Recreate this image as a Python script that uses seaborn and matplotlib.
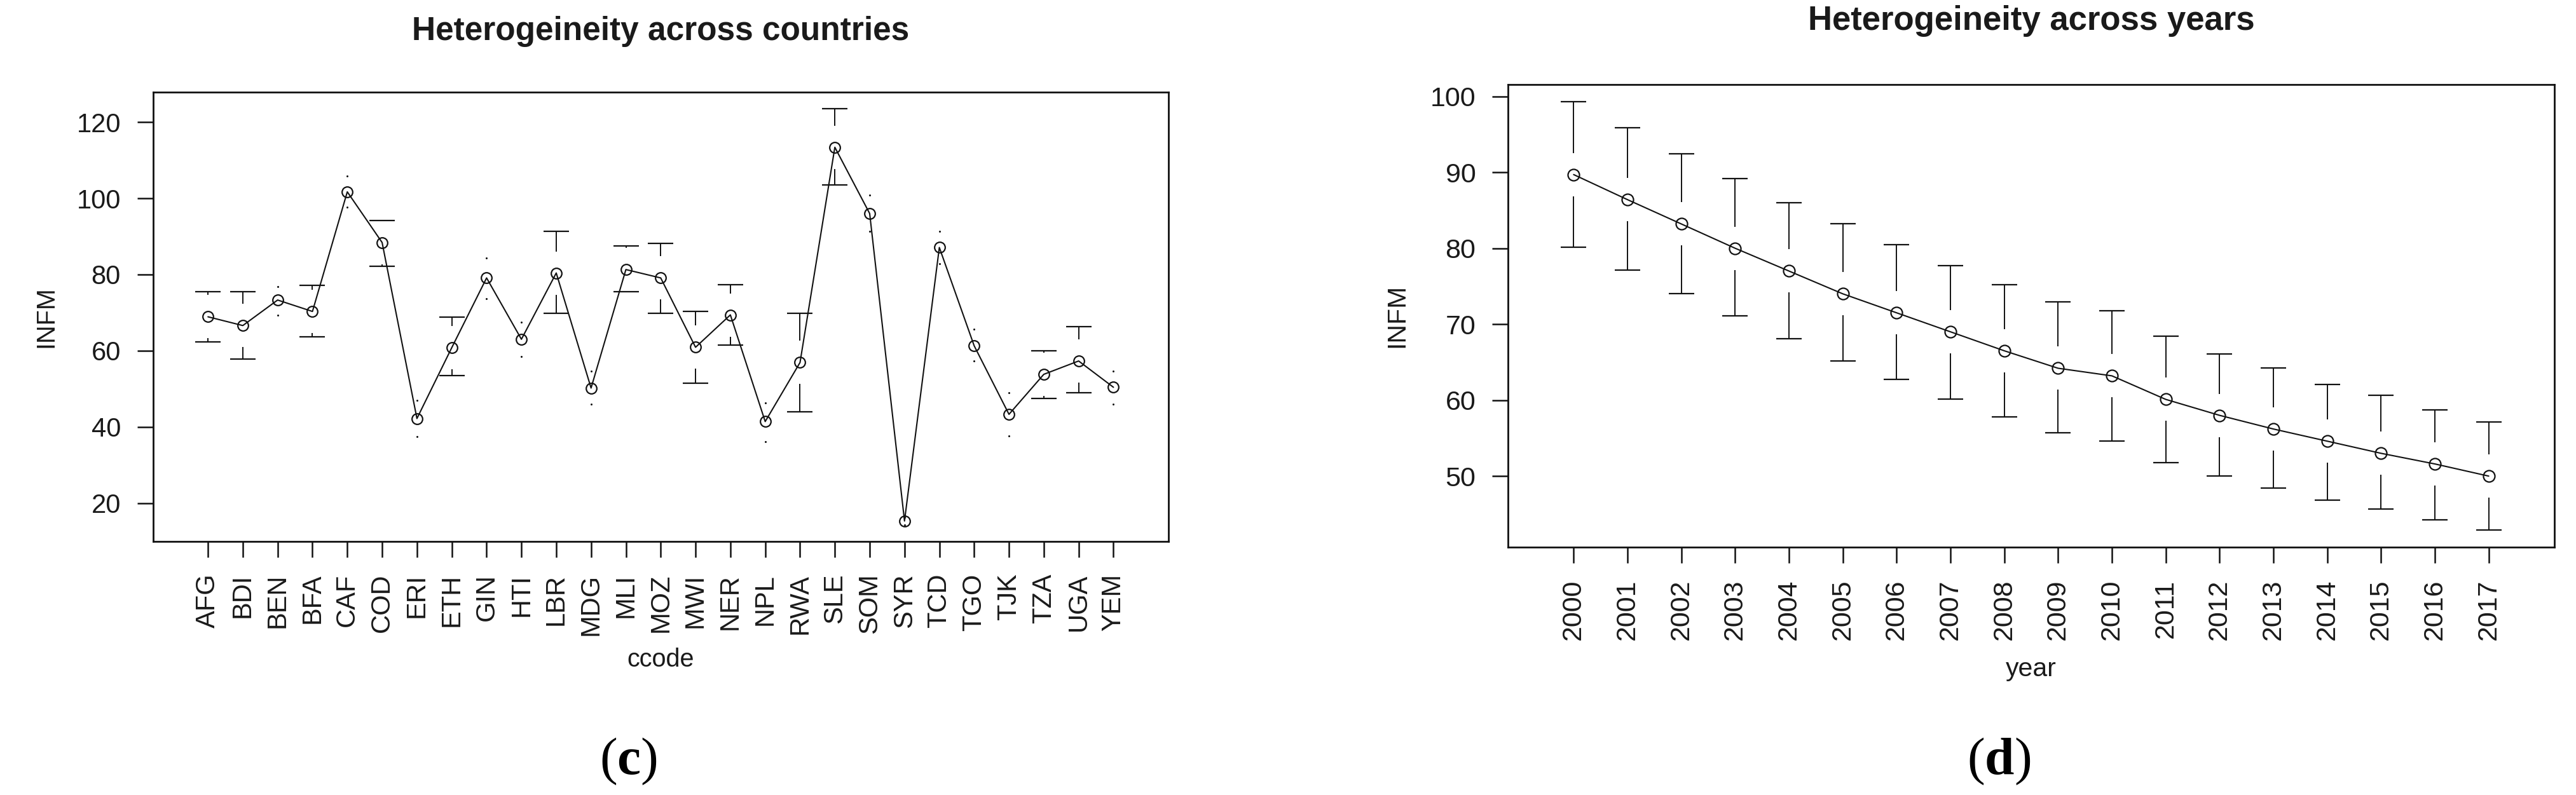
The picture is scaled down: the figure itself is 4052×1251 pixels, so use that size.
import numpy as np
import pandas as pd
import matplotlib
matplotlib.use("Agg")
import matplotlib.pyplot as plt
import seaborn as sns

# ---------------- data ----------------
countries = ["AFG", "BDI", "BEN", "BFA", "CAF", "COD", "ERI", "ETH", "GIN", "HTI",
             "LBR", "MDG", "MLI", "MOZ", "MWI", "NER", "NPL", "RWA", "SLE", "SOM",
             "SYR", "TCD", "TGO", "TJK", "TZA", "UGA", "YEM"]
country_mean = [68.9, 66.6, 73.3, 70.3, 101.7, 88.4, 42.2, 60.8, 79.1, 63.0,
                80.4, 50.2, 81.3, 79.1, 60.9, 69.4, 41.4, 56.9, 113.4, 96.0,
                15.3, 87.1, 61.3, 43.3, 53.8, 57.3, 50.4]
country_upper = [75.5, 75.5, 76.9, 77.2, 105.8, 94.2, 47.0, 68.8, 84.3, 67.4,
                 91.4, 54.6, 87.5, 88.1, 70.3, 77.4, 46.3, 69.8, 123.5, 100.8,
                 16.3, 91.4, 65.7, 48.9, 59.9, 66.3, 54.7]
country_lower = [62.3, 57.8, 69.4, 63.6, 97.6, 82.2, 37.5, 53.4, 73.7, 58.4,
                 69.8, 45.9, 75.5, 69.8, 51.5, 61.4, 36.1, 44.0, 103.5, 91.4,
                 14.3, 82.9, 57.3, 37.7, 47.5, 48.9, 45.9]

years = [str(y) for y in range(2000, 2018)]
year_mean = [89.7, 86.4, 83.2, 80.0, 77.0, 74.0, 71.5, 69.0, 66.5, 64.2,
             63.2, 60.1, 58.0, 56.2, 54.6, 53.0, 51.6, 50.0]
year_upper = [99.3, 95.9, 92.4, 89.2, 86.0, 83.2, 80.5, 77.7, 75.2, 72.9,
              71.8, 68.4, 66.1, 64.2, 62.1, 60.6, 58.7, 57.1]
year_lower = [80.1, 77.1, 74.0, 71.1, 68.1, 65.2, 62.7, 60.1, 57.8, 55.7,
              54.6, 51.8, 50.0, 48.4, 46.8, 45.7, 44.2, 42.9]

left_yticks = [20, 40, 60, 80, 100, 120]
right_yticks = [50, 60, 70, 80, 90, 100]

# ---------------- style ----------------
sns.set_theme(style="white")
plt.rcParams["font.family"] = ["Liberation Sans", "DejaVu Sans"]
plt.rcParams["mathtext.fontset"] = "custom"
plt.rcParams["mathtext.rm"] = "Liberation Serif"
plt.rcParams["mathtext.bf"] = "Liberation Serif:bold"

W, H = 4052, 1251
fig = plt.figure(figsize=(W / 100, H / 100), dpi=100)
fig.patch.set_facecolor("white")

ax1 = fig.add_axes([240.6 / W, 1 - 852 / H, (1838 - 240.6) / W, (852 - 145) / H])
ax2 = fig.add_axes([2372 / W, 1 - 861 / H, (4018 - 2372) / W, (861 - 133) / H])

INK = "#111111"


def draw_panel(ax, labels, mean, lower, upper, yticks, title, xlabel,
               tick_fs, lab_fs, title_fs, title_pad, xlab_y, ylab_x, msize):
    n = len(labels)
    df = pd.DataFrame({"pos": np.arange(1, n + 1), "mean": mean,
                       "lower": lower, "upper": upper, "label": labels})
    xpad = 0.04 * n
    ax.set_xlim(0.5 - xpad, n + 0.5 + xpad)
    lo, hi = min(lower), max(upper)
    d = hi - lo
    ax.set_ylim(lo - 0.04 * d, hi + 0.04 * d)

    # pixel -> data conversion for the R-style gap and caps
    pos = ax.get_position()
    ax_w_px = pos.width * W
    ax_h_px = pos.height * H
    y0, y1 = ax.get_ylim()
    x0, x1 = ax.get_xlim()
    gap = 34 / (ax_h_px / (y1 - y0))
    cap = 20 / (ax_w_px / (x1 - x0))

    sns.lineplot(data=df, x="pos", y="mean", ax=ax, color=INK, linewidth=1.5,
                 marker="o", markersize=msize, markerfacecolor="none",
                 markeredgecolor=INK, markeredgewidth=1.6, zorder=3)

    for _, r in df.iterrows():
        # upper arm
        if r["upper"] > r["mean"] + gap:
            ax.vlines(r["pos"], r["mean"] + gap, r["upper"], color=INK, lw=1.4)
            ax.hlines(r["upper"], r["pos"] - cap, r["pos"] + cap, color=INK, lw=1.6)
        else:
            ax.plot([r["pos"]], [r["upper"]], marker="o", ms=2.2, color=INK, mew=0)
        # lower arm
        if r["lower"] < r["mean"] - gap:
            ax.vlines(r["pos"], r["lower"], r["mean"] - gap, color=INK, lw=1.4)
            ax.hlines(r["lower"], r["pos"] - cap, r["pos"] + cap, color=INK, lw=1.6)
        else:
            ax.plot([r["pos"]], [r["lower"]], marker="o", ms=2.2, color=INK, mew=0)

    ax.set_xticks(df["pos"])
    ax.set_xticklabels(labels, rotation=90)
    ax.set_yticks(yticks)
    ax.set_yticklabels([str(t) for t in yticks])
    ax.tick_params(axis="both", direction="out", length=18, width=1.8,
                   pad=18.5, labelsize=tick_fs, colors=INK, labelcolor="#1a1a1a",
                   bottom=True, left=True)
    for s in ax.spines.values():
        s.set_visible(True)
        s.set_color(INK)
        s.set_linewidth(2.0)

    ax.set_title(title, fontsize=title_fs, fontweight="bold", pad=title_pad,
                 color="#1a1a1a")
    ax.set_xlabel(xlabel, fontsize=lab_fs, color="#1a1a1a")
    ax.xaxis.set_label_coords(0.5, xlab_y)
    ax.xaxis.label.set_va("baseline")
    ax.set_ylabel("INFM", fontsize=lab_fs, color="#1a1a1a")
    ax.yaxis.set_label_coords(ylab_x, 0.5)
    ax.yaxis.label.set_va("baseline")
    ax.grid(False)
    ax.set_facecolor("white")


draw_panel(ax1, countries, country_mean, country_lower, country_upper,
           left_yticks, "Heterogeineity across countries", "ccode",
           tick_fs=30, lab_fs=28.5, title_fs=37, title_pad=59.4,
           xlab_y=-(1049 - 852) / (852 - 145), ylab_x=-(240.6 - 83) / (1838 - 240.6),
           msize=12)
draw_panel(ax2, years, year_mean, year_lower, year_upper,
           right_yticks, "Heterogeineity across years", "year",
           tick_fs=31, lab_fs=29.5, title_fs=38, title_pad=62,
           xlab_y=-(1064 - 861) / (861 - 133), ylab_x=-(2372 - 2208) / (4018 - 2372),
           msize=13)

fig.text(988 / W, 1 - 1198 / H, r"$\mathrm{(}\mathbf{c}\mathrm{)}$", fontsize=60,
         ha="center", va="center", color="black")
fig.text(3144 / W, 1 - 1198 / H, r"$\mathrm{(}\mathbf{d}\mathrm{)}$", fontsize=60,
         ha="center", va="center", color="black")

fig.savefig("out.png", dpi=100, facecolor="white")
